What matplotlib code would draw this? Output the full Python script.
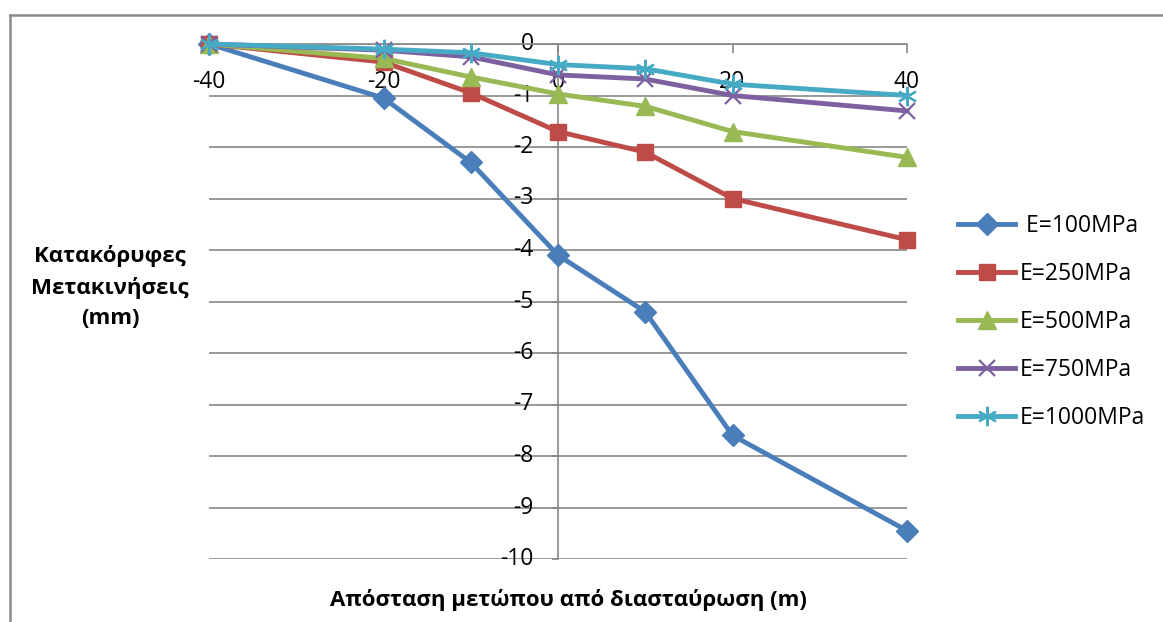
import matplotlib
matplotlib.use('Agg')
import matplotlib.pyplot as plt
from matplotlib.lines import Line2D

plt.rcParams['font.family'] = ['Open Sans', 'DejaVu Sans']
plt.rcParams['axes.unicode_minus'] = False

# Data
distance = [-40, -20, -10, 0, 10, 20, 40]
e100 = [0, -1.05, -2.3, -4.1, -5.2, -7.6, -9.45]
e250 = [0, -0.35, -0.95, -1.7, -2.1, -3.0, -3.8]
e500 = [0, -0.28, -0.64, -0.97, -1.21, -1.7, -2.2]
e750 = [0, -0.12, -0.25, -0.6, -0.68, -1.0, -1.3]
e1000 = [0, -0.1, -0.17, -0.4, -0.48, -0.78, -1.0]

labels = [' E=100MPa', 'E=250MPa', 'E=500MPa', 'E=750MPa', 'E=1000MPa']
x_ticks = [-40, -20, 0, 20, 40]
y_ticks = list(range(-10, 1))

series = [e100, e250, e500, e750, e1000]
colors = ['#4A7EBB', '#BE4B48', '#98B954', '#7D60A0', '#46AAC5']
markers = ['D', 's', '^', 'x', '*']
msizes = [11, 12, 13, 12, 14]

fig = plt.figure(figsize=(11.63, 6.22), dpi=100)
ax = fig.add_axes([209/1163, 1 - 559/622, (907-209)/1163, (559-44)/622])

grey = '#878787'

for y, c, m, ms, lab in zip(series, colors, markers, msizes, labels):
    if m == '*':
        # asterisk style marker (x + vertical bar)
        ax.plot(distance, y, color=c, lw=3.5, label=lab, marker=(6, 2, 0),
                ms=ms, mew=1.6, clip_on=False, zorder=3)
    elif m == 'x':
        ax.plot(distance, y, color=c, lw=3.5, label=lab, marker=m,
                ms=ms, mew=1.6, clip_on=False, zorder=3)
    else:
        ax.plot(distance, y, color=c, lw=3.5, label=lab, marker=m,
                ms=ms, mec=c, clip_on=False, zorder=3)

ax.set_xlim(-40, 40)
ax.set_ylim(-10, 0)

# Excel style axes crossing at zero
for s in ['top', 'right']:
    ax.spines[s].set_visible(False)
ax.spines['left'].set_position(('data', 0))
ax.spines['bottom'].set_position(('data', 0))
ax.spines['left'].set_color(grey)
ax.spines['bottom'].set_color(grey)
ax.spines['left'].set_linewidth(1.2)
ax.spines['bottom'].set_linewidth(1.2)

ax.set_xticks(x_ticks)
ax.set_yticks(y_ticks)
ax.tick_params(axis='x', direction='out', length=6.5, width=1.2, color=grey,
               pad=12, labelsize=16.5)
ax.tick_params(axis='y', direction='out', length=4.5, width=1.2, color=grey,
               pad=13, labelsize=16.5)
for t in ax.get_yticklabels():
    t.set_verticalalignment('center')

ax.yaxis.grid(True, color=grey, lw=1.2)
ax.set_axisbelow(True)

fig.text(568/1163, 1 - 600/622, 'Απόσταση μετώπου από διασταύρωση (m)',
         ha='center', va='center', fontsize=16, fontweight='bold')
fig.text(110/1163, 1 - 287/622, 'Κατακόρυφες\nΜετακινήσεις\n(mm)',
         ha='center', va='center', fontsize=16, fontweight='bold',
         linespacing=1.55)

ax.legend(loc='center left', bbox_to_anchor=(958/1163, 1 - 322/622),
          bbox_transform=fig.transFigure, frameon=False, fontsize=16.5,
          handlelength=2.5, handletextpad=0.2, labelspacing=1.05,
          borderpad=0, borderaxespad=0)

# chart area border (left and top)
fig.add_artist(Line2D([10/1163, 10/1163], [0, 1 - 15/622], transform=fig.transFigure,
                      color='#8A8A8A', lw=1.8))
fig.add_artist(Line2D([10/1163, 1], [1 - 15/622, 1 - 15/622], transform=fig.transFigure,
                      color='#8A8A8A', lw=1.8))

fig.savefig('out.png', dpi=100)
